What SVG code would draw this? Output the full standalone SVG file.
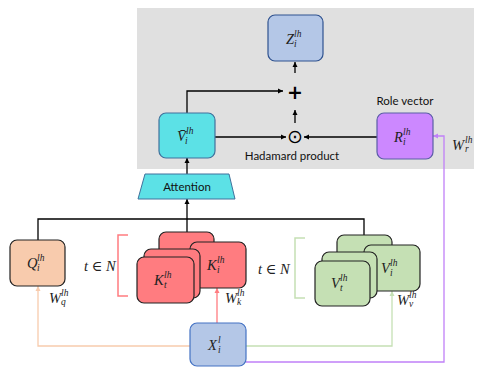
<svg xmlns="http://www.w3.org/2000/svg" width="477" height="368" viewBox="0 0 477 368">
<style>
.box{stroke-width:1.2}
.m{font-family:"Liberation Serif","DejaVu Serif",serif;font-style:italic;font-size:14.5px;fill:#222}
.s{font-family:"Liberation Serif","DejaVu Serif",serif;font-style:italic;font-size:9.5px;fill:#222}
.lbl{font-family:Lato,"Open Sans","Liberation Sans",sans-serif;font-size:11.5px;fill:#111}
.k{fill:none;stroke:#000;stroke-width:1.3}
</style>
<defs>
<marker id="ab" markerWidth="6" markerHeight="6" refX="5" refY="3" orient="auto" markerUnits="userSpaceOnUse"><path d="M0,0.5 L5,3 L0,5.5z" fill="#000"/></marker>
<marker id="ap" markerWidth="6" markerHeight="6" refX="5" refY="3" orient="auto" markerUnits="userSpaceOnUse"><path d="M0,0.5 L5,3 L0,5.5z" fill="#F8CBAD"/></marker>
<marker id="ar" markerWidth="6" markerHeight="6" refX="5" refY="3" orient="auto" markerUnits="userSpaceOnUse"><path d="M0,0.5 L5,3 L0,5.5z" fill="#FF7C80"/></marker>
<marker id="ag" markerWidth="6" markerHeight="6" refX="5" refY="3" orient="auto" markerUnits="userSpaceOnUse"><path d="M0,0.5 L5,3 L0,5.5z" fill="#C5E0B4"/></marker>
<marker id="av" markerWidth="6" markerHeight="6" refX="5" refY="3" orient="auto" markerUnits="userSpaceOnUse"><path d="M0,0.5 L5,3 L0,5.5z" fill="#C080F8"/></marker>
</defs>
<rect x="137" y="8" width="337" height="161" fill="#E0E0E0"/>

<g id="connectors">
<path class="k" d="M295,73 V62" marker-end="url(#ab)"/>
<path class="k" d="M295,123 V110" marker-end="url(#ab)"/>
<path class="k" d="M187,113 V91 H283" marker-end="url(#ab)"/>
<path class="k" d="M215,137 H286" marker-end="url(#ab)"/>
<path class="k" d="M377,137 H304" marker-end="url(#ab)"/>
<path class="k" d="M187,174 V158" marker-end="url(#ab)"/>
<path class="k" d="M38,240 V219 H364 V235 M187,219 V232"/>
<path class="k" d="M187,219 V199" marker-end="url(#ab)"/>
<path d="M190,346 H38 V286" fill="none" stroke="#F8CBAD" stroke-width="1.3" marker-end="url(#ap)"/>
<path d="M217,323 V288" fill="none" stroke="#FF7C80" stroke-width="1.3" marker-end="url(#ar)"/>
<path d="M246,346 H392 V291" fill="none" stroke="#C5E0B4" stroke-width="1.3" marker-end="url(#ag)"/>
<path d="M246,362 H444 V136 H433" fill="none" stroke="#C080F8" stroke-width="1.3" marker-end="url(#av)"/>
<path d="M128,235 H118 V296 H128" fill="none" stroke="#FF7C80" stroke-width="1.5"/>
<path d="M305,238 H295 V298 H305" fill="none" stroke="#C5E0B4" stroke-width="1.5"/>
</g>

<g id="Z">
<rect class="box" x="268" y="15" width="55" height="46" rx="7" fill="#B4C7E7" stroke="#2F528F"/>
<text class="m" x="286" y="44">Z</text><text class="s" x="294" y="37">lh</text><text class="s" x="294" y="47">i</text>
</g>
<g id="plus"><text x="295" y="99" text-anchor="middle" font-family="DejaVu Sans,sans-serif" font-size="19" font-weight="bold" fill="#000">+</text></g>
<g id="hadamard">
<text x="295" y="143" text-anchor="middle" font-family="DejaVu Sans,sans-serif" font-size="19" fill="#000">⊙</text>
<text class="lbl" x="292" y="160" text-anchor="middle">Hadamard product</text>
</g>
<g id="Vbar">
<rect class="box" x="159" y="113" width="56" height="45" rx="7" fill="#5CE1E6" stroke="#41719C"/>
<text class="m" x="177" y="141">V̄</text><text class="s" x="186" y="134">lh</text><text class="s" x="185" y="144">i</text>
</g>
<g id="R">
<text class="lbl" x="405" y="105" text-anchor="middle">Role vector</text>
<rect class="box" x="377" y="113" width="56" height="46" rx="7" fill="#CC88FF" stroke="#5B5EA6"/>
<text class="m" x="394" y="142">R</text><text class="s" x="403" y="135">lh</text><text class="s" x="403" y="145">i</text>
<text class="m" x="452" y="150">W</text><text class="s" x="465" y="143">lh</text><text class="s" x="465" y="152">r</text>
</g>
<g id="attention">
<path d="M145,174 H229 L235,199 H138 Z" fill="#5CE1E6" stroke="#41719C" stroke-width="1"/>
<text class="lbl" x="187" y="191" text-anchor="middle">Attention</text>
</g>
<g id="Q">
<rect class="box" x="10" y="240" width="55" height="46" rx="7" fill="#F8CBAD" stroke="#222"/>
<text class="m" x="27" y="268">Q</text><text class="s" x="37" y="261">lh</text><text class="s" x="37" y="271">i</text>
<text class="m" x="49" y="303">W</text><text class="s" x="61" y="296">lh</text><text class="s" x="61" y="305">q</text>
</g>
<g id="K">
<text class="m" x="84" y="271">t ∈ N</text>
<rect class="box" x="159" y="232" width="55" height="46" rx="7" fill="#FF7C80" stroke="#222"/>
<rect class="box" x="190" y="242" width="56" height="46" rx="7" fill="#FF7C80" stroke="#222"/>
<rect class="box" x="144" y="249" width="56" height="49" rx="7" fill="#FF7C80" stroke="#222"/>
<rect class="box" x="137" y="257" width="57" height="46" rx="7" fill="#FF7C80" stroke="#222"/>
<text class="m" x="154" y="285">K</text><text class="s" x="164" y="278">lh</text><text class="s" x="164" y="288">t</text>
<text class="m" x="207" y="270">K</text><text class="s" x="217" y="263">lh</text><text class="s" x="217" y="273">i</text>
<text class="m" x="225" y="303">W</text><text class="s" x="237" y="296">lh</text><text class="s" x="237" y="305">k</text>
</g>
<g id="V">
<text class="m" x="258" y="274">t ∈ N</text>
<rect class="box" x="337" y="235" width="55" height="46" rx="7" fill="#C5E0B4" stroke="#222"/>
<rect class="box" x="364" y="245" width="56" height="46" rx="7" fill="#C5E0B4" stroke="#222"/>
<rect class="box" x="322" y="252" width="55" height="46" rx="7" fill="#C5E0B4" stroke="#222"/>
<rect class="box" x="315" y="261" width="55" height="45" rx="7" fill="#C5E0B4" stroke="#222"/>
<text class="m" x="331" y="288">V</text><text class="s" x="340" y="281">lh</text><text class="s" x="340" y="291">t</text>
<text class="m" x="381" y="273">V</text><text class="s" x="390" y="266">lh</text><text class="s" x="390" y="276">i</text>
<text class="m" x="397" y="305">W</text><text class="s" x="409" y="298">lh</text><text class="s" x="409" y="307">v</text>
</g>
<g id="X">
<rect class="box" x="190" y="323" width="56" height="43" rx="7" fill="#B4C7E7" stroke="#4472C4"/>
<text class="m" x="208" y="350">X</text><text class="s" x="218" y="343">l</text><text class="s" x="218" y="353">i</text>
</g>
</svg>
